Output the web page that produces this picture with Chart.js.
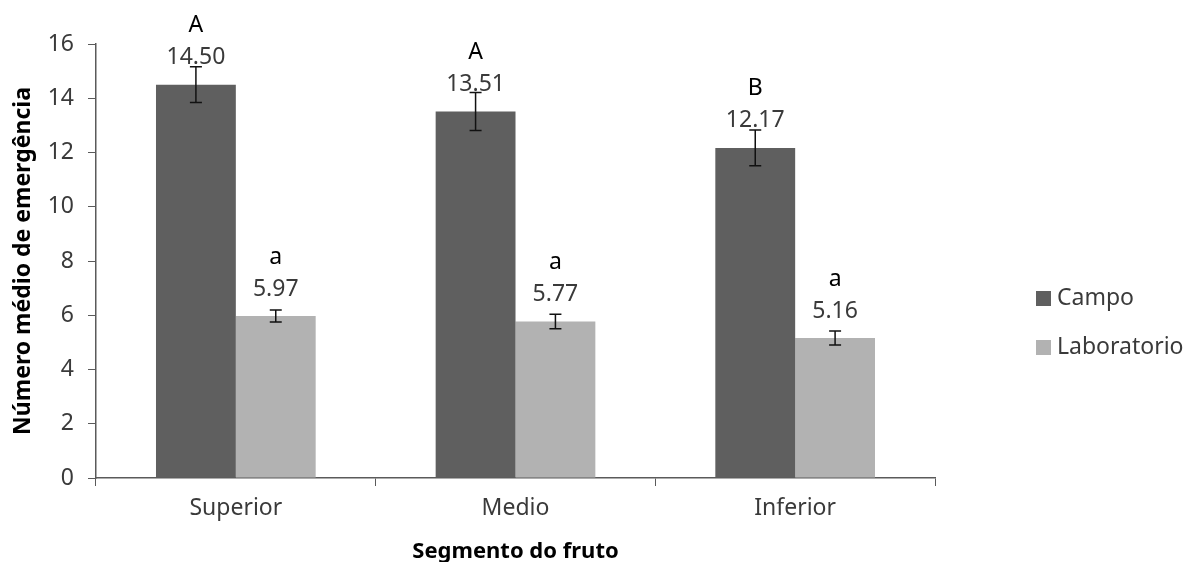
<!DOCTYPE html>
<html>
<head>
<meta charset="utf-8">
<script src="https://cdn.jsdelivr.net/npm/chart.js@4/dist/chart.umd.min.js"></script>
<style>
    html, body { margin: 0; padding: 0; background: #fff; }
    #wrap { width: 1185px; height: 562px; position: relative; }
</style>
</head>
<body>
<div id="wrap"><canvas id="emergenciaChart"></canvas></div>
<script>
// Dados do gráfico
const segmentos = ['Superior', 'Medio', 'Inferior'];
const campo = [14.50, 13.51, 12.17];
const laboratorio = [5.97, 5.77, 5.16];
const campoErro = [0.66, 0.70, 0.66];
const laboratorioErro = [0.22, 0.27, 0.26];
const campoLetras = ['A', 'A', 'B'];
const laboratorioLetras = ['a', 'a', 'a'];
const yTicks = [0, 2, 4, 6, 8, 10, 12, 14, 16];

const FONTE = '"Noto Sans", "Open Sans", sans-serif';
const corEixo = '#5a5a5a';

// Barras de erro, rótulos de valor e letras
const anotacoesPlugin = {
    id: 'anotacoes',
    afterDatasetsDraw(chart) {
        const ctx = chart.ctx;
        const y = chart.scales.y;
        const erros = [campoErro, laboratorioErro];
        const letras = [campoLetras, laboratorioLetras];
        ctx.save();
        chart.data.datasets.forEach((ds, di) => {
            const meta = chart.getDatasetMeta(di);
            meta.data.forEach((bar, i) => {
                const v = ds.data[i];
                const e = erros[di][i];
                const x = bar.x;
                const yTop = y.getPixelForValue(v + e);
                const yBot = y.getPixelForValue(v - e);
                ctx.strokeStyle = '#111';
                ctx.lineWidth = 1.5;
                ctx.beginPath();
                ctx.moveTo(x, yTop); ctx.lineTo(x, yBot);
                ctx.moveTo(x - 6, yTop); ctx.lineTo(x + 6, yTop);
                ctx.moveTo(x - 6, yBot); ctx.lineTo(x + 6, yBot);
                ctx.stroke();

                const yLabel = bar.y - 27;
                ctx.font = '23px ' + FONTE;
                ctx.textAlign = 'center';
                ctx.textBaseline = 'middle';
                ctx.fillStyle = '#3a3a3a';
                ctx.fillText(v.toFixed(2), x, yLabel);
                ctx.fillStyle = '#000';
                ctx.fillText(letras[di][i], x, yLabel - 32);
            });
        });
        ctx.restore();
    },
    afterDraw(chart) {
        // Legenda
        const ctx = chart.ctx;
        ctx.save();
        ctx.font = '23px ' + FONTE;
        ctx.textAlign = 'left';
        ctx.textBaseline = 'middle';
        chart.data.datasets.forEach((ds, di) => {
            const cy = 298 + di * 49;
            ctx.fillStyle = ds.backgroundColor;
            ctx.fillRect(1036, cy - 7, 15, 15);
            ctx.fillStyle = '#3a3a3a';
            ctx.fillText(ds.label, 1057, cy);
        });
        ctx.restore();
    }
};

const ctx = document.getElementById('emergenciaChart').getContext('2d');
const emergenciaChart = new Chart(ctx, {
    type: 'bar',
    data: {
        labels: segmentos,
        datasets: [
            {
                label: 'Campo',
                data: campo,
                backgroundColor: '#5f5f5f',
                categoryPercentage: 0.571,
                barPercentage: 1
            },
            {
                label: 'Laboratorio',
                data: laboratorio,
                backgroundColor: '#b2b2b2',
                categoryPercentage: 0.571,
                barPercentage: 1
            }
        ]
    },
    options: {
        responsive: true,
        maintainAspectRatio: false,
        animation: false,
        layout: { padding: { top: 44, right: 250, left: 0, bottom: 0 } },
        plugins: {
            legend: { display: false },
            tooltip: { enabled: false }
        },
        scales: {
            x: {
                grid: { drawOnChartArea: false, tickLength: 8, color: corEixo, offset: true },
                border: { color: corEixo, width: 1.5 },
                ticks: { color: '#3a3a3a', font: { family: FONTE, size: 23 }, padding: 9 },
                title: {
                    display: true, text: 'Segmento do fruto', color: '#000',
                    font: { family: FONTE, size: 22, weight: 'bold' }, padding: { top: 0, bottom: -3 }
                },
                afterFit(scale) { scale.height = 84; }
            },
            y: {
                min: 0,
                max: 16,
                afterBuildTicks(scale) { scale.ticks = yTicks.map(v => ({ value: v })); },
                grid: { drawOnChartArea: false, tickLength: 8, color: corEixo },
                border: { color: corEixo, width: 1.5 },
                ticks: { color: '#3a3a3a', font: { family: FONTE, size: 23 }, padding: 14 },
                title: {
                    display: true, text: 'Número médio de emergência', color: '#000',
                    font: { family: FONTE, size: 23, weight: 'bold' }, padding: { top: 10, bottom: 0 }
                },
                afterFit(scale) { scale.width = 96; }
            }
        }
    },
    plugins: [anotacoesPlugin]
});
</script>
</body>
</html>
